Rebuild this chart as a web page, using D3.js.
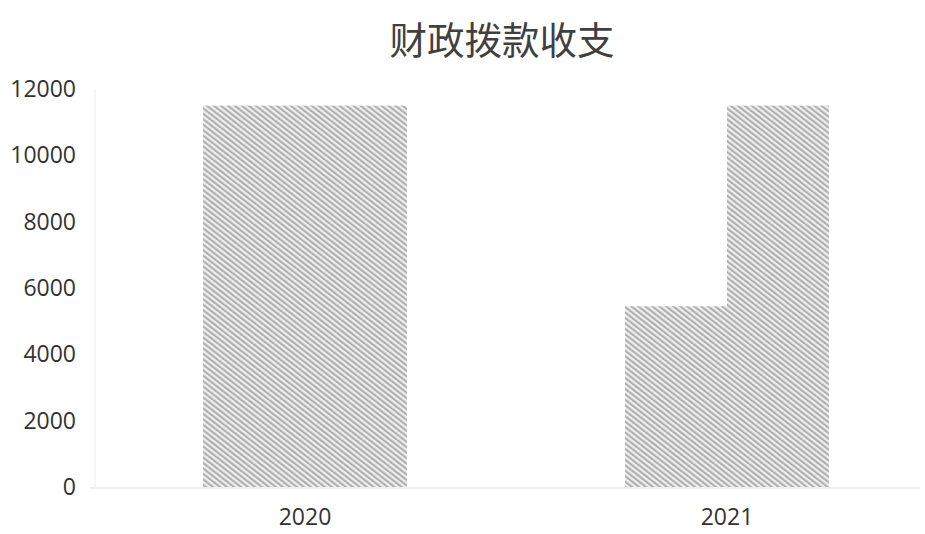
<!DOCTYPE html>
<html>
<head>
<meta charset="utf-8">
<script src="https://cdn.jsdelivr.net/npm/d3@7"></script>
<style>
  body { margin: 0; background: #fff; }
  svg { display: block; }
</style>
</head>
<body>
<svg id="chart"></svg>
<script>
// data
var years = ["2020", "2021"];
var seriesNames = ["收入", "支出"];
var incomeValues = [11500, 5450];
var spendValues = [11500, 11500];
var yTicks = [0, 2000, 4000, 6000, 8000, 10000, 12000];

var width = 925, height = 534;
var margin = { top: 89, right: 0, bottom: 47, left: 94 };

var svg = d3.select("#chart")
    .attr("width", width)
    .attr("height", height);

// diagonal hatch fill
var defs = svg.append("defs");
var pat = defs.append("pattern")
    .attr("id", "hatch")
    .attr("patternUnits", "userSpaceOnUse")
    .attr("width", 4.3)
    .attr("height", 4.3)
    .attr("patternTransform", "rotate(-52)");
pat.append("rect").attr("width", 4.3).attr("height", 4.3).attr("fill", "#efefef");
pat.append("line")
    .attr("x1", 1.1).attr("y1", 0).attr("x2", 1.1).attr("y2", 4.3)
    .attr("stroke", "#ababab")
    .attr("stroke-width", 2);

var y = d3.scaleLinear()
    .domain([0, 12000])
    .range([height - margin.bottom, margin.top]);

var x = d3.scaleBand()
    .domain(years)
    .range([margin.left, 938])
    .paddingInner(0)
    .paddingOuter(0);

var xSub = d3.scaleBand()
    .domain(seriesNames)
    .range([0, x.bandwidth()])
    .paddingOuter(1.07)
    .paddingInner(0);

// title
svg.append("text")
    .attr("x", 502)
    .attr("y", 54)
    .attr("text-anchor", "middle")
    .attr("font-family", "'Noto Sans CJK SC', sans-serif")
    .attr("font-size", 37.5)
    .attr("fill", "#404040")
    .text("财政拨款收支");

// faint frame line at left
svg.append("line")
    .attr("x1", 95).attr("x2", 95)
    .attr("y1", y(12000)).attr("y2", y(0))
    .attr("stroke", "#f5f5f5").attr("stroke-width", 2);

// y axis
var yAxis = g => g
    .attr("transform", "translate(78,0)")
    .call(d3.axisLeft(y).tickValues(yTicks).tickFormat(d3.format("d")).tickSize(0).tickPadding(2))
    .call(g => g.select(".domain").remove())
    .call(g => g.selectAll("text")
        .attr("font-family", "'Open Sans', sans-serif")
        .attr("font-size", 23)
        .attr("fill", "#333"));
svg.append("g").call(yAxis);

// bars
var rows = [];
years.forEach(function(yr, i) {
  rows.push({ year: yr, name: seriesNames[0], value: incomeValues[i] });
  rows.push({ year: yr, name: seriesNames[1], value: spendValues[i] });
});

svg.append("g")
  .selectAll("rect")
  .data(rows)
  .enter().append("rect")
    .attr("x", d => x(d.year) + xSub(d.name))
    .attr("width", xSub.bandwidth())
    .attr("y", d => y(d.value))
    .attr("height", d => y(0) - y(d.value))
    .attr("fill", "url(#hatch)");

// baseline
svg.append("line")
    .attr("x1", margin.left - 4).attr("x2", 920)
    .attr("y1", y(0) + 1).attr("y2", y(0) + 1)
    .attr("stroke", "#efefef").attr("stroke-width", 2);

// x axis
var xAxis = g => g
    .attr("transform", "translate(0," + (y(0) + 18) + ")")
    .call(d3.axisBottom(x).tickSize(0).tickPadding(4))
    .call(g => g.select(".domain").remove())
    .call(g => g.selectAll("text")
        .attr("font-family", "'Open Sans', sans-serif")
        .attr("font-size", 23)
        .attr("fill", "#333"));
svg.append("g").call(xAxis);
</script>
</body>
</html>
